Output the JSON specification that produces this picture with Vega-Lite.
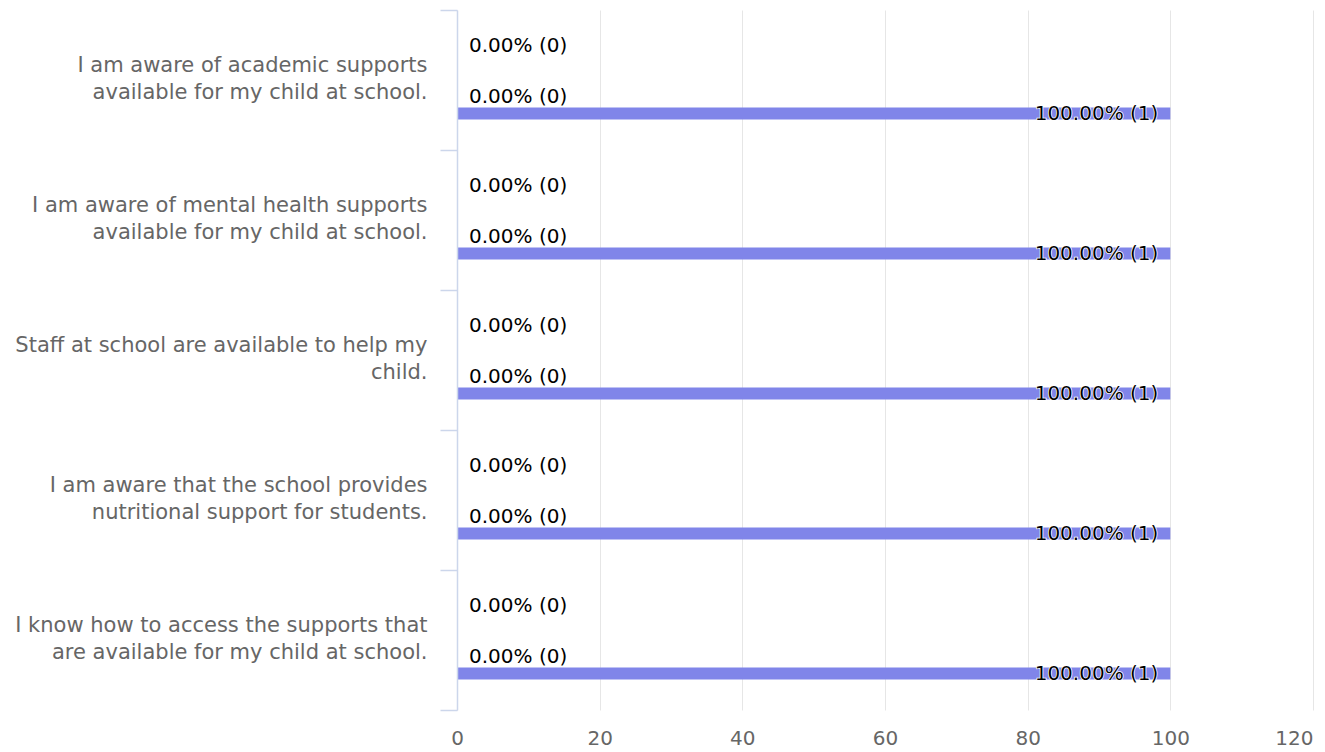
{
  "$schema": "https://vega.github.io/schema/vega-lite/v6.json",
  "width": 856,
  "height": 700,
  "autosize": "none",
  "padding": {"left": 457, "top": 10, "right": 12, "bottom": 42},
  "background": "white",
  "config": {"view": {"stroke": null}, "font": "DejaVu Sans"},
  "data": {
    "values": [
      {"question": "I am aware of academic supports\navailable for my child at school.", "series": "Strongly Disagree", "pct": 0, "label": "0.00% (0)"},
      {"question": "I am aware of academic supports\navailable for my child at school.", "series": "Disagree", "pct": 0, "label": "0.00% (0)"},
      {"question": "I am aware of academic supports\navailable for my child at school.", "series": "Neutral", "pct": 0, "label": "0.00% (0)"},
      {"question": "I am aware of academic supports\navailable for my child at school.", "series": "Agree", "pct": 0, "label": "0.00% (0)"},
      {"question": "I am aware of academic supports\navailable for my child at school.", "series": "Strongly Agree", "pct": 100, "label": "100.00% (1)"},
      {"question": "I am aware of mental health supports\navailable for my child at school.", "series": "Strongly Disagree", "pct": 0, "label": "0.00% (0)"},
      {"question": "I am aware of mental health supports\navailable for my child at school.", "series": "Disagree", "pct": 0, "label": "0.00% (0)"},
      {"question": "I am aware of mental health supports\navailable for my child at school.", "series": "Neutral", "pct": 0, "label": "0.00% (0)"},
      {"question": "I am aware of mental health supports\navailable for my child at school.", "series": "Agree", "pct": 0, "label": "0.00% (0)"},
      {"question": "I am aware of mental health supports\navailable for my child at school.", "series": "Strongly Agree", "pct": 100, "label": "100.00% (1)"},
      {"question": "Staff at school are available to help my\nchild.", "series": "Strongly Disagree", "pct": 0, "label": "0.00% (0)"},
      {"question": "Staff at school are available to help my\nchild.", "series": "Disagree", "pct": 0, "label": "0.00% (0)"},
      {"question": "Staff at school are available to help my\nchild.", "series": "Neutral", "pct": 0, "label": "0.00% (0)"},
      {"question": "Staff at school are available to help my\nchild.", "series": "Agree", "pct": 0, "label": "0.00% (0)"},
      {"question": "Staff at school are available to help my\nchild.", "series": "Strongly Agree", "pct": 100, "label": "100.00% (1)"},
      {"question": "I am aware that the school provides\nnutritional support for students.", "series": "Strongly Disagree", "pct": 0, "label": "0.00% (0)"},
      {"question": "I am aware that the school provides\nnutritional support for students.", "series": "Disagree", "pct": 0, "label": "0.00% (0)"},
      {"question": "I am aware that the school provides\nnutritional support for students.", "series": "Neutral", "pct": 0, "label": "0.00% (0)"},
      {"question": "I am aware that the school provides\nnutritional support for students.", "series": "Agree", "pct": 0, "label": "0.00% (0)"},
      {"question": "I am aware that the school provides\nnutritional support for students.", "series": "Strongly Agree", "pct": 100, "label": "100.00% (1)"},
      {"question": "I know how to access the supports that\nare available for my child at school.", "series": "Strongly Disagree", "pct": 0, "label": "0.00% (0)"},
      {"question": "I know how to access the supports that\nare available for my child at school.", "series": "Disagree", "pct": 0, "label": "0.00% (0)"},
      {"question": "I know how to access the supports that\nare available for my child at school.", "series": "Neutral", "pct": 0, "label": "0.00% (0)"},
      {"question": "I know how to access the supports that\nare available for my child at school.", "series": "Agree", "pct": 0, "label": "0.00% (0)"},
      {"question": "I know how to access the supports that\nare available for my child at school.", "series": "Strongly Agree", "pct": 100, "label": "100.00% (1)"}
    ]
  },
  "encoding": {
    "y": {
      "field": "question",
      "type": "nominal",
      "sort": null,
      "scale": {"paddingInner": 0, "paddingOuter": 0},
      "axis": {
        "title": null,
        "zindex": 2,
        "domainColor": "#ccd6eb",
        "domainWidth": 1.5,
        "tickColor": "#ccd6eb",
        "tickWidth": 1.5,
        "tickSize": 17,
        "tickBand": "extent",
        "labelPadding": 13,
        "labelFontSize": 21,
        "labelColor": "#666666",
        "labelLimit": 450,
        "labelExpr": "datum.value ? split(datum.value, '\\n') : ''",
        "labelLineHeight": 27,
        "labelBaseline": "alphabetic",
        "labelOffset": -9,
        "grid": false
      }
    },
    "yOffset": {
      "field": "series",
      "type": "nominal",
      "scale": {
        "domain": ["Strongly Disagree", "Disagree", "Neutral", "Agree", "Strongly Agree"],
        "range": [28, 112],
        "paddingInner": 0,
        "paddingOuter": 0
      }
    },
    "x": {
      "field": "pct",
      "type": "quantitative",
      "scale": {"domain": [0, 120], "nice": false},
      "axis": {
        "title": null,
        "values": [0, 20, 40, 60, 80, 100, 120],
        "grid": true,
        "gridColor": "#e6e6e6",
        "domain": false,
        "ticks": false,
        "labelFlush": false,
        "labelAlign": {"condition": {"test": "datum.value === 120", "value": "right"}, "value": "center"},
        "labelFontSize": 20,
        "labelColor": "#666666",
        "labelBaseline": "alphabetic",
        "labelPadding": 34
      }
    }
  },
  "layer": [
    {"mark": {"type": "bar", "height": 12, "color": "#8085e9"}},
    {
      "transform": [{"filter": "datum.series === 'Strongly Disagree' || datum.series === 'Agree'"}],
      "mark": {"type": "text", "align": "left", "baseline": "middle", "dx": 12, "fontSize": 20, "color": "#000000"},
      "encoding": {"text": {"field": "label"}}
    },
    {
      "transform": [{"filter": "datum.series === 'Strongly Agree'"}],
      "mark": {"type": "text", "align": "right", "baseline": "middle", "dx": -12, "fontSize": 20, "color": "#ffffff", "stroke": "#ffffff", "strokeWidth": 1.5},
      "encoding": {"text": {"field": "label"}}
    },
    {
      "transform": [{"filter": "datum.series === 'Strongly Agree'"}],
      "mark": {"type": "text", "align": "right", "baseline": "middle", "dx": -12, "fontSize": 20, "color": "#000000"},
      "encoding": {"text": {"field": "label"}}
    }
  ]
}
